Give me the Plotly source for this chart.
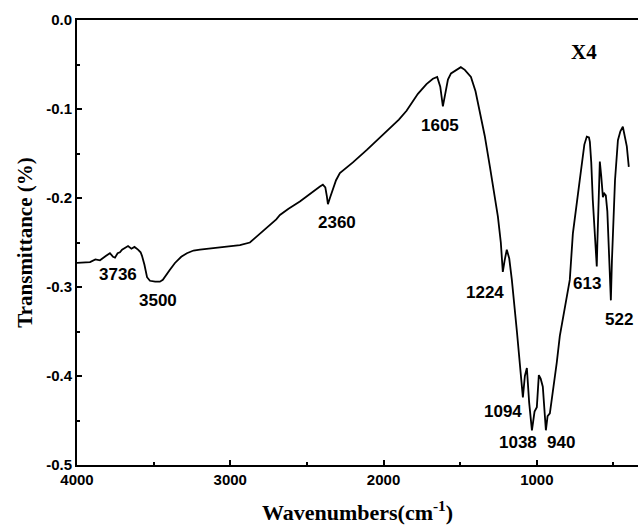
import plotly.graph_objects as go

wavenumber = [4000, 3950, 3915, 3880, 3850, 3810, 3785, 3765, 3752, 3735, 3720, 3706, 3690, 3667,
              3645, 3625, 3602, 3585, 3576, 3560, 3543, 3524, 3490, 3459, 3440, 3426, 3395, 3361,
              3320, 3283, 3240, 3198, 3100, 3022, 2937, 2872, 2806, 2761, 2700, 2676, 2620, 2546,
              2480, 2415, 2396, 2380, 2370, 2363, 2350, 2330, 2310, 2285, 2200, 2109, 1991, 1900,
              1850, 1776, 1720, 1678, 1650, 1630, 1613, 1600, 1580, 1560, 1530, 1496, 1470, 1430,
              1400, 1371, 1340, 1306, 1280, 1254, 1235, 1222, 1210, 1196, 1180, 1163, 1130, 1100,
              1091, 1078, 1065, 1050, 1032, 1015, 1000, 987, 975, 961, 950, 941, 930, 915, 870,
              850, 785, 765, 720, 690, 674, 660, 654, 645, 635, 620, 609, 605, 598, 589, 580, 569,
              560, 550, 540, 530, 517, 510, 504, 490, 471, 455, 439, 430, 420, 413, 400]
transmittance = [-0.273, -0.272, -0.272, -0.269, -0.270, -0.265, -0.262, -0.266, -0.267, -0.262,
                 -0.261, -0.258, -0.256, -0.254, -0.257, -0.255, -0.258, -0.261, -0.265, -0.275,
                 -0.289, -0.293, -0.294, -0.294, -0.292, -0.289, -0.281, -0.273, -0.266, -0.262,
                 -0.259, -0.258, -0.256, -0.255, -0.253, -0.250, -0.240, -0.233, -0.224, -0.219,
                 -0.212, -0.204, -0.195, -0.187, -0.185, -0.188, -0.198, -0.207, -0.200, -0.191,
                 -0.180, -0.172, -0.160, -0.146, -0.127, -0.112, -0.102, -0.083, -0.072, -0.066,
                 -0.064, -0.075, -0.097, -0.085, -0.067, -0.060, -0.057, -0.053, -0.056, -0.064,
                 -0.080, -0.105, -0.130, -0.165, -0.195, -0.221, -0.250, -0.283, -0.270, -0.258,
                 -0.268, -0.292, -0.350, -0.405, -0.424, -0.400, -0.391, -0.430, -0.461, -0.440,
                 -0.435, -0.399, -0.403, -0.412, -0.440, -0.461, -0.445, -0.442, -0.385, -0.355,
                 -0.292, -0.240, -0.180, -0.140, -0.131, -0.132, -0.137, -0.160, -0.202, -0.245,
                 -0.277, -0.250, -0.200, -0.159, -0.175, -0.199, -0.195, -0.197, -0.215, -0.260,
                 -0.315, -0.270, -0.240, -0.180, -0.135, -0.125, -0.120, -0.128, -0.138, -0.142,
                 -0.165]

peak_labels = ["3736", "3500", "2360", "1605", "1224", "1094", "1038", "940", "613", "522"]
label_x = [3733, 3472, 2304, 1632, 1339, 1221, 1123, 843, 673, 465]
label_y = [-0.2865, -0.315, -0.228, -0.118, -0.306, -0.440, -0.475, -0.475, -0.296, -0.337]

sample_name = "X4"
sample_pos = (693, -0.036)

x_tickvals = [4000, 3000, 2000, 1000]
y_tickvals = [0.0, -0.1, -0.2, -0.3, -0.4, -0.5]
y_ticktext = ["0.0", "-0.1", "-0.2", "-0.3", "-0.4", "-0.5"]

fig = go.Figure()
fig.add_trace(go.Scatter(x=wavenumber, y=transmittance, mode="lines",
                         line=dict(color="black", width=1.8), showlegend=False,
                         hoverinfo="skip"))

annotations = []
for t, x, y in zip(peak_labels, label_x, label_y):
    annotations.append(dict(x=x, y=y, xref="x", yref="y", text=t, showarrow=False,
                            font=dict(family="Liberation Sans, Arial", size=17, color="black",
                                      weight="bold")))
annotations.append(dict(x=sample_pos[0], y=sample_pos[1], xref="x", yref="y", text=sample_name,
                        showarrow=False,
                        font=dict(family="Liberation Serif, Times New Roman", size=21,
                                  color="black", weight="bold")))

fig.update_layout(
    width=638, height=530,
    margin=dict(l=77, r=0, t=20, b=65),
    paper_bgcolor="white", plot_bgcolor="white",
    annotations=annotations,
    xaxis=dict(
        range=[4000, 340], tickvals=x_tickvals, ticktext=[str(v) for v in x_tickvals],
        showgrid=False, zeroline=False, showline=True, linecolor="black", linewidth=2,
        mirror=True, ticks="inside", ticklen=5, tickwidth=1.5, tickcolor="black",
        minor=dict(dtick=500, tick0=0, ticks="inside", ticklen=3, tickcolor="black"),
        tickfont=dict(family="Liberation Sans, Arial", size=15, color="black", weight="bold"),
        title=dict(text="Wavenumbers(cm<sup>-1</sup>)", standoff=18,
                   font=dict(family="Liberation Serif, Times New Roman", size=22,
                             color="black", weight="bold")),
    ),
    yaxis=dict(
        range=[-0.5, 0.0], tickvals=y_tickvals, ticktext=y_ticktext,
        showgrid=False, zeroline=False, showline=True, linecolor="black", linewidth=2,
        mirror=False, ticks="inside", ticklen=5, tickwidth=1.5, tickcolor="black",
        minor=dict(dtick=0.05, tick0=0, ticks="inside", ticklen=3, tickcolor="black"),
        tickfont=dict(family="Liberation Sans, Arial", size=15, color="black", weight="bold"),
        title=dict(text="Transmittance (%)", standoff=8,
                   font=dict(family="Liberation Serif, Times New Roman", size=21,
                             color="black", weight="bold")),
    ),
)

fig.write_html("out.html")
